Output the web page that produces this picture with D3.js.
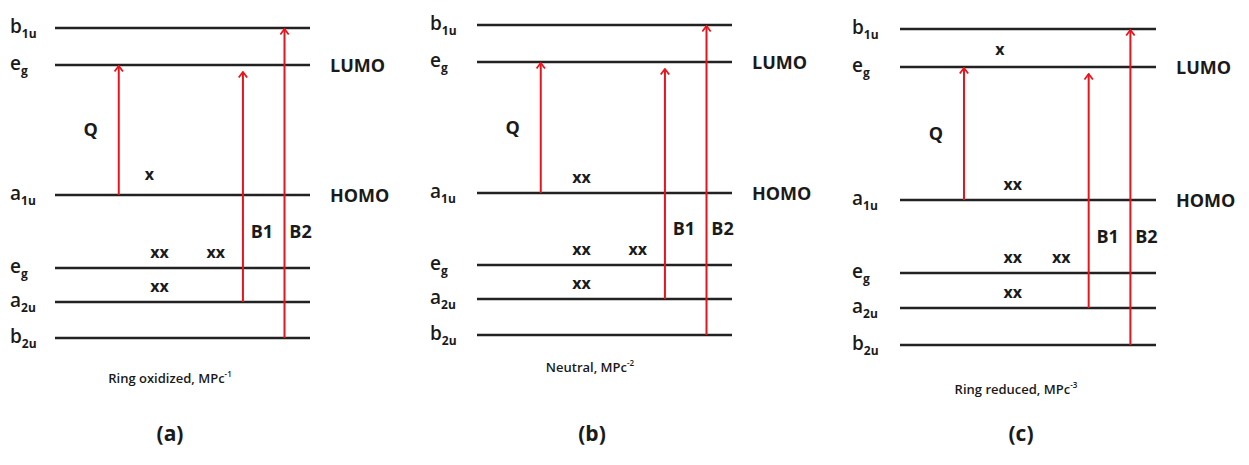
<!DOCTYPE html>
<html><head><meta charset="utf-8">
<script src="https://cdn.jsdelivr.net/npm/d3@7"></script>
<style>body{margin:0;background:#fff}text{font-family:"Open Sans","Liberation Sans",sans-serif}</style>
</head><body><svg id="c" width="1249" height="465"></svg>
<script>
// Orbital levels (name, subscript) from top to bottom
const levelNames = [["b","1u"],["e","g"],["a","1u"],["e","g"],["a","2u"],["b","2u"]];
// Relative energies (arbitrary units, b2u = 0) per panel
const energiesA = [310, 273, 143, 70, 36, 0];
const energiesB = [310, 273, 142, 70, 36, 0];
const energiesC = [316, 278, 145, 72, 37, 0];
// Electron occupation labels per level
const occA = [[], [], ["x"], ["xx","xx"], ["xx"], []];
const occB = [[], [], ["xx"], ["xx","xx"], ["xx"], []];
const occC = [[], ["x"], ["xx"], ["xx","xx"], ["xx"], []];
// Transitions: name, from level index, to level index
const transitions = [["Q", 2, 1], ["B1", 4, 1], ["B2", 5, 0]];
const captions = ["Ring oxidized, MPc", "Neutral, MPc", "Ring reduced, MPc"];
const charges = ["-1", "-2", "-3"];
const panelLetters = ["(a)", "(b)", "(c)"];

const panels = [
  {E: energiesA, occ: occA, x0: 55, x1: 310, base: 338, cap: [170, 383], lett: [170, 441], occX:[[],[],[0.37],[0.41,0.63],[0.41],[]], lab: 10},
  {E: energiesB, occ: occB, x0: 477, x1: 732, base: 335, cap: [590, 372], lett: [592, 441], occX:[[],[],[0.41],[0.41,0.63],[0.41],[]], lab: 430},
  {E: energiesC, occ: occC, x0: 900, x1: 1156, base: 345, cap: [1016, 394], lett: [1021, 441], occX:[[],[0.39],[0.44],[0.44,0.63],[0.44],[]], lab: 852}
];
// arrow positions as fraction of level line width
const arrowFrac = [0.25, 0.737, 0.9];
const tipGap = [1, 7, 1];
const ink = "#1a1a1a";
const red = "#e8141c";

const svg = d3.select("#c");
const defs = svg.append("defs");
defs.append("marker").attr("id","ah").attr("viewBox","0 0 10 10").attr("refX",9).attr("refY",5)
  .attr("markerWidth",10).attr("markerHeight",10).attr("markerUnits","userSpaceOnUse").attr("orient","auto")
  .append("path").attr("d","M3.5,0.8 L9,5 L3.5,9.2").attr("fill","none").attr("stroke",red).attr("stroke-width",1.8);

panels.forEach((p, pi) => {
  const g = svg.append("g");
  const y = d3.scaleLinear().domain([0, 320]).range([p.base, p.base - 320]);
  const x = d3.scaleLinear().domain([0, 1]).range([p.x0, p.x1]);
  // levels
  g.selectAll("line.lv").data(p.E).join("line").attr("class","lv")
    .attr("x1", x(0)).attr("x2", x(1)).attr("y1", d => y(d)).attr("y2", d => y(d))
    .attr("stroke", "#222").attr("stroke-width", 2.6);
  // level labels
  p.E.forEach((e, i) => {
    const t = g.append("text").attr("x", p.lab).attr("y", y(e) + 5).attr("font-size", 19).attr("font-weight", 600).attr("fill", ink);
    t.append("tspan").text(levelNames[i][0]);
    t.append("tspan").attr("font-size", 12).attr("dy", 5).attr("font-weight", 700).text(levelNames[i][1]);
  });
  // LUMO / HOMO
  g.append("text").attr("x", p.x1 + 20).attr("y", y(p.E[1]) + 7).attr("font-size", 18).attr("font-weight","bold").attr("fill",ink).text("LUMO");
  g.append("text").attr("x", p.x1 + 20).attr("y", y(p.E[2]) + 7).attr("font-size", 18).attr("font-weight","bold").attr("fill",ink).text("HOMO");
  // occupation
  p.occ.forEach((labs, i) => {
    labs.forEach((s, k) => {
      g.append("text").attr("x", x(p.occX[i][k])).attr("y", y(p.E[i]) - 10 - (i===2 && pi===0 ? 5 : 0) - (i===1?2:0))
        .attr("text-anchor","middle").attr("font-size", 16).attr("font-weight","bold").attr("fill",ink).text(s);
    });
  });
  // transitions
  transitions.forEach((t, k) => {
    const xa = x(arrowFrac[k]);
    g.append("line").attr("x1", xa).attr("x2", xa).attr("y1", y(p.E[t[1]])).attr("y2", y(p.E[t[2]]) + tipGap[k])
      .attr("stroke", red).attr("stroke-width", 2).attr("marker-end", "url(#ah)");
  });
  // labels Q, B1, B2
  const midQ = (y(p.E[1]) + y(p.E[2])) / 2;
  g.append("text").attr("x", x(arrowFrac[0]) - 28).attr("y", midQ + 6).attr("text-anchor","middle")
    .attr("font-size", 18).attr("font-weight","bold").attr("fill",ink).text("Q");
  const by = (y(p.E[2]) + y(p.E[3])) / 2 + 6;
  g.append("text").attr("x", x(arrowFrac[1]) + 19).attr("y", by).attr("text-anchor","middle")
    .attr("font-size", 18).attr("font-weight","bold").attr("fill",ink).text("B1");
  g.append("text").attr("x", x(arrowFrac[2]) + 16).attr("y", by).attr("text-anchor","middle")
    .attr("font-size", 18).attr("font-weight","bold").attr("fill",ink).text("B2");
  // caption
  const c = g.append("text").attr("x", p.cap[0]).attr("y", p.cap[1]).attr("text-anchor","middle").attr("font-size", 13).attr("font-weight", 600).attr("fill",ink);
  c.append("tspan").text(captions[pi]);
  c.append("tspan").attr("font-size", 8).attr("dy", -6).text(charges[pi]);
  g.append("text").attr("x", p.lett[0]).attr("y", p.lett[1]).attr("text-anchor","middle").attr("font-size", 21).attr("font-weight","bold").attr("fill",ink).text(panelLetters[pi]);
});
</script></body></html>
